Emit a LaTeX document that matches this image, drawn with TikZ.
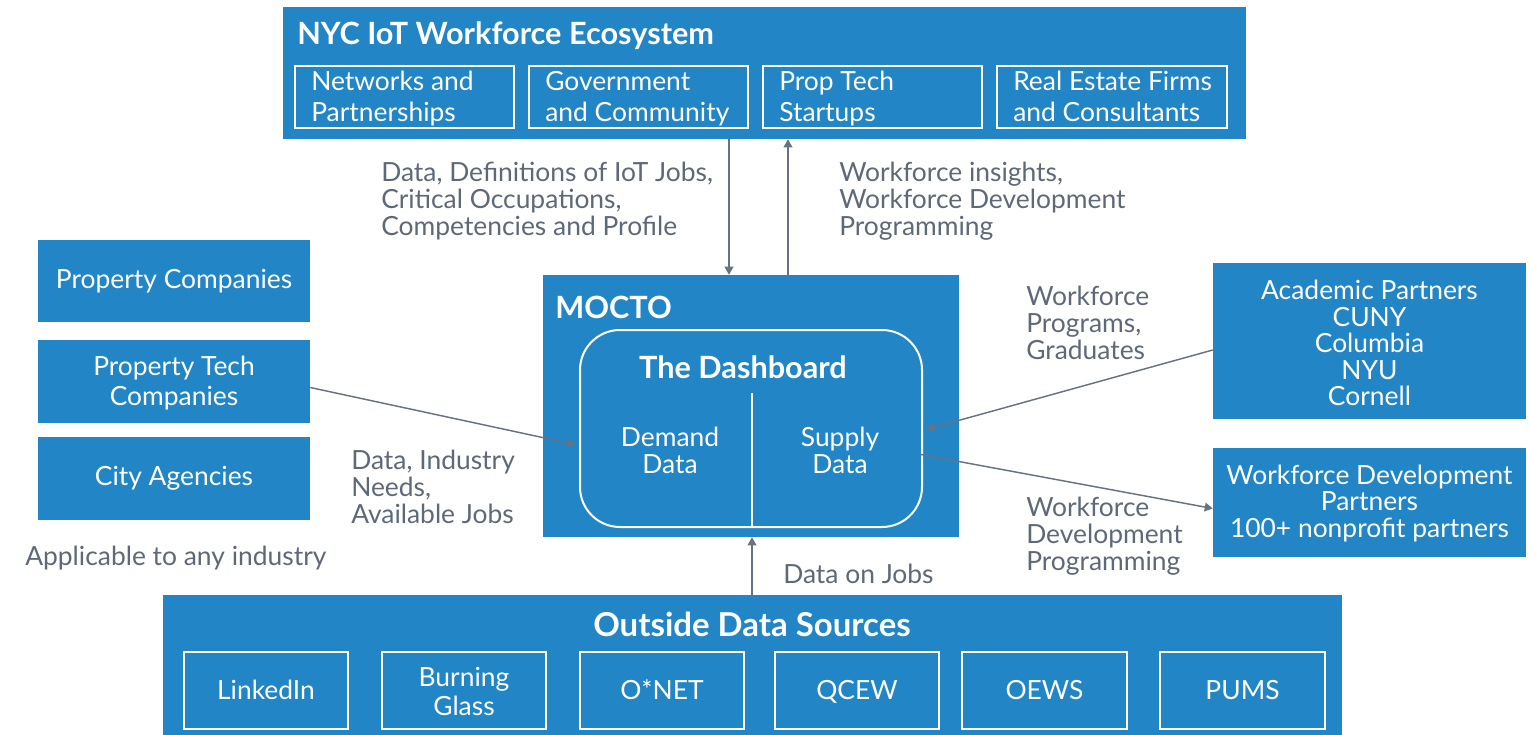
\documentclass[tikz,border=0pt]{standalone}
\usepackage{fontspec}
\setmainfont{Lato}
\usetikzlibrary{arrows.meta,fit,calc}
\definecolor{boxblue}{HTML}{2185C6}
\definecolor{txtgray}{HTML}{5E6978}
\definecolor{arrgray}{HTML}{687382}
\begin{document}
\begin{tikzpicture}[x=0.75pt,y=-0.75pt,
  bluebox/.style={fill=boxblue,inner sep=0pt,draw=none},
  wbox/.style={draw=white,line width=1.5pt,inner sep=0pt},
  ttl/.style={text=white,font=\fontsize{23}{27}\selectfont\bfseries,inner sep=0pt},
  wtxt/.style={text=white,font=\fontsize{19.8}{22.5}\selectfont,inner sep=0pt},
  gtxt/.style={text=txtgray,font=\fontsize{19.8}{20.25}\selectfont,inner sep=0pt,align=left},
  arr/.style={draw=arrgray,line width=1.1pt,-{Triangle[length=6pt,width=6.5pt]}}]
\useasboundingbox (0,0) rectangle (1531,735);

% top ecosystem
\node[bluebox,fit={(283,7)(1246,139)}] (eco) {};
\node[ttl,anchor=base west] (ecot) at (297,45) {NYC IoT Workforce Ecosystem};
\node[wbox,fit={(295,66)(514,128)}] (e1) {};
\node[wbox,fit={(529,66)(748,128)}] (e2) {};
\node[wbox,fit={(763,66)(982,128)}] (e3) {};
\node[wbox,fit={(997,66)(1227,128)}] (e4) {};
\node[wtxt,align=left,anchor=base west] (e1t) at (311,121) {Networks and\\Partnerships};
\node[wtxt,align=left,anchor=base west] (e2t) at (545,121) {Government\\and Community};
\node[wtxt,align=left,anchor=base west] (e3t) at (779,121) {Prop Tech\\Startups};
\node[wtxt,align=left,anchor=base west] (e4t) at (1013,121) {Real Estate Firms\\and Consultants};

% MOCTO
\node[bluebox,fit={(543,275)(959,537)}] (mocto) {};
\node[ttl,anchor=base west] (moctot) at (555,318) {MOCTO};
\node[wbox,rounded corners=30pt,fit={(580,330)(922,527)}] (dash) {};
\node[ttl,anchor=base] (dasht) at (743,378) {The Dashboard};
\draw[white,line width=1.5pt] (752,393) -- (752,527);
\node[wtxt,align=center,anchor=base,font=\fontsize{19.8}{20.25}\selectfont] (dem) at (670,473) {Demand\\Data};
\node[wtxt,align=center,anchor=base,font=\fontsize{19.8}{20.25}\selectfont] (sup) at (840,473) {Supply\\Data};

% left boxes
\node[bluebox,fit={(38,240)(310,322)}] (pc) {};
\node[wtxt] at (pc.center) {Property Companies};
\node[bluebox,fit={(38,340)(310,423)}] (ptc) {};
\node[wtxt,align=center] at ($(ptc.center)+(0,2)$) {Property Tech\\Companies};
\node[bluebox,fit={(38,437)(310,520)}] (ca) {};
\node[wtxt] at (ca.center) {City Agencies};
\node[gtxt,anchor=base west] (appl) at (25,565) {Applicable to any industry};

% right boxes
\node[bluebox,fit={(1213,263)(1526,419)}] (acad) {};
\node[wtxt,align=center,font=\fontsize{19.8}{19.9}\selectfont] at ($(acad.center)+(0,2)$) {Academic Partners\\CUNY\\Columbia\\NYU\\Cornell};
\node[bluebox,fit={(1213,448)(1526,557)}] (wdp) {};
\node[wtxt,align=center,font=\fontsize{19.8}{19.9}\selectfont] at ($(wdp.center)+(0,1)$) {Workforce Development\\Partners\\100+ nonprofit partners};

% bottom
\node[bluebox,fit={(163,595)(1342,740)}] (out) {};
\node[ttl,anchor=base,font=\fontsize{24.7}{28}\selectfont\bfseries] (outt) at (752,636) {Outside Data Sources};
\node[wbox,fit={(184,652)(348,729)}] (o1) {};
\node[wbox,fit={(382,652)(546,729)}] (o2) {};
\node[wbox,fit={(580,652)(744,729)}] (o3) {};
\node[wbox,fit={(775,652)(939,729)}] (o4) {};
\node[wbox,fit={(962,652)(1127,729)}] (o5) {};
\node[wbox,fit={(1160,652)(1325,729)}] (o6) {};
\node[wtxt,anchor=base] at (o1.center |- 0,699) {LinkedIn};
\node[wtxt,align=center,font=\fontsize{19.8}{21.5}\selectfont] at ($(o2.center)+(0,1)$) {Burning\\Glass};
\node[wtxt,anchor=base] at (o3.center |- 0,699) {O*NET};
\node[wtxt,anchor=base] at (o4.center |- 0,699) {QCEW};
\node[wtxt,anchor=base] at (o5.center |- 0,699) {OEWS};
\node[wtxt,anchor=base] at (o6.center |- 0,699) {PUMS};

% labels
\node[gtxt,anchor=base west] (l1) at (381,235) {Data, Definitions of IoT Jobs,\\Critical Occupations,\\Competencies and Profile};
\node[gtxt,anchor=base west] (l2) at (839,235) {Workforce insights,\\Workforce Development\\Programming};
\node[gtxt,anchor=base west] (l3) at (351,523) {Data, Industry\\Needs,\\Available Jobs};
\node[gtxt,anchor=base west] (l4) at (1026,359) {Workforce\\Programs,\\Graduates};
\node[gtxt,anchor=base west] (l5) at (1026,570) {Workforce\\Development\\Programming};
\node[gtxt,anchor=base west] (l6) at (783,583) {Data on Jobs};

% connectors
\coordinate (xa) at (729,0);
\coordinate (xb) at (788,0);
\coordinate (xc) at (752,0);
\draw[arr] (xa |- eco.south) -- (xa |- mocto.north);
\draw[arr] (xb |- mocto.north) -- (xb |- eco.south);
\draw[arr] ($(ptc.east)+(0,6)$) -- ($(dash.west)+(-4,16)$);
\draw[arr] ($(acad.west)+(0,9)$) -- ($(dash.east)+(3,1)$);
\draw[arr] ($(dash.east)+(-2,26)$) -- ($(wdp.west)+(0,6)$);
\draw[arr] (xc |- out.north) -- (xc |- mocto.south);
\end{tikzpicture}
\end{document}
